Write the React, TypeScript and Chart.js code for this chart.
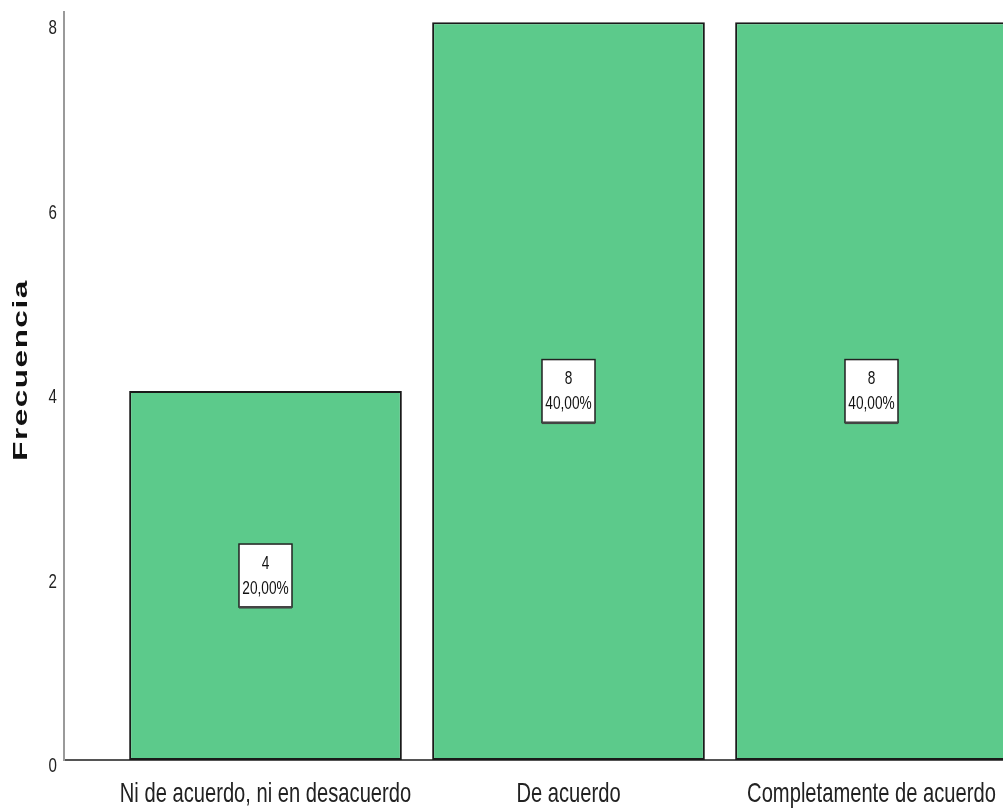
import React, { useEffect, useRef } from "react";
import { Chart, registerables } from "chart.js";

Chart.register(...registerables);

// Response categories and their frequencies
const categories = [
  "Ni de acuerdo, ni en desacuerdo",
  "De acuerdo",
  "Completamente de acuerdo",
];
const counts = [4, 8, 8];
const yTicks = [0, 2, 4, 6, 8];
const yTitle = "Frecuencia";

const SANS = '"Liberation Sans", Arial, sans-serif';
const BAR_FILL = "#5cca8b";
// horizontal squeeze that gives the tall, narrow lettering
const NARROW_X = 0.72;

const total = counts.reduce((a, b) => a + b, 0);
const pctText = (v: number) => ((v / total) * 100).toFixed(2).replace(".", ",") + "%";

function narrowText(
  ctx: CanvasRenderingContext2D,
  text: string,
  x: number,
  y: number,
  size: number,
  align: CanvasTextAlign,
  color: string
) {
  ctx.save();
  ctx.translate(x, y);
  ctx.scale(NARROW_X, 1);
  ctx.font = `${size}px ${SANS}`;
  ctx.fillStyle = color;
  ctx.textAlign = align;
  ctx.textBaseline = "alphabetic";
  ctx.fillText(text, 0, 0);
  ctx.restore();
}

// Tick labels for both axes, placed from the chart's scales
const tickLabels = {
  id: "tickLabels",
  afterDraw(chart: any) {
    const ctx = chart.ctx;
    const xs = chart.scales.x;
    const ys = chart.scales.y;
    xs.ticks.forEach((t: any, i: number) => {
      const label = categories[t.value];
      if (label === undefined) return;
      narrowText(ctx, label, xs.getPixelForTick(i), xs.top + 42, 28, "center", "#222");
    });
    ys.ticks.forEach((t: any, i: number) => {
      narrowText(ctx, String(t.value), ys.right - 7, ys.getPixelForTick(i) + 12, 21, "right", "#222");
    });
  },
};

// White boxes with count and percentage at each bar's mid-height
const valueBoxes = {
  id: "valueBoxes",
  afterDatasetsDraw(chart: any) {
    const ctx = chart.ctx;
    const meta = chart.getDatasetMeta(0);
    const yScale = chart.scales.y;
    meta.data.forEach((bar: any, i: number) => {
      const v = counts[i];
      const cx = bar.x;
      const cy = yScale.getPixelForValue(v / 2);
      const w = 53;
      const h = 63;
      ctx.save();
      ctx.fillStyle = "#ffffff";
      ctx.fillRect(cx - w / 2, cy - h / 2, w, h);
      ctx.strokeStyle = "#222";
      ctx.lineWidth = 1.5;
      ctx.strokeRect(cx - w / 2, cy - h / 2, w, h);
      ctx.fillStyle = "#444";
      ctx.fillRect(cx - w / 2, cy + h / 2 - 1, w, 2.5);
      ctx.restore();
      narrowText(ctx, String(v), cx, cy - 7, 19, "center", "#111");
      narrowText(ctx, pctText(v), cx, cy + 18, 19, "center", "#111");
    });
  },
};

// Rotated axis title, stretched along its length
const axisTitle = {
  id: "axisTitle",
  afterDraw(chart: any) {
    const ctx = chart.ctx;
    const area = chart.chartArea;
    ctx.save();
    ctx.translate(21, (area.top + area.bottom) / 2 - 16);
    ctx.rotate(-Math.PI / 2);
    ctx.scale(1.5, 1);
    ctx.font = `bold 21px ${SANS}`;
    (ctx as any).letterSpacing = "1px";
    ctx.fillStyle = "#111";
    ctx.textAlign = "center";
    ctx.textBaseline = "middle";
    ctx.fillText(yTitle, 0, 0);
    ctx.restore();
  },
};

export default function App() {
  const canvasRef = useRef<HTMLCanvasElement | null>(null);

  useEffect(() => {
    if (!canvasRef.current) return;
    const chart = new Chart(canvasRef.current, {
      type: "bar",
      data: {
        datasets: [
          {
            data: counts.map((v, i) => ({ x: i, y: v })),
            backgroundColor: BAR_FILL,
            borderColor: "#1a1a1a",
            borderWidth: 2,
            borderSkipped: false,
            barPercentage: 0.9,
            categoryPercentage: 1,
          },
        ],
      },
      options: {
        responsive: false,
        animation: false,
        layout: { padding: { top: 12, left: 0, right: 0, bottom: 0 } },
        plugins: {
          legend: { display: false },
          tooltip: { enabled: false },
        },
        scales: {
          x: {
            type: "linear",
            offset: false,
            min: -0.665,
            max: 2.434,
            grid: { display: false, drawTicks: false },
            border: { display: true, color: "#555", width: 2 },
            afterBuildTicks: (axis: any) => {
              axis.ticks = categories.map((_, i) => ({ value: i }));
            },
            afterFit: (scale: any) => {
              scale.height = 51;
            },
            ticks: { display: false },
          },
          y: {
            type: "linear",
            min: 0,
            max: 8.11,
            grid: { display: false, drawTicks: false },
            border: { display: true, color: "#9a9a9a", width: 2 },
            afterBuildTicks: (axis: any) => {
              axis.ticks = yTicks.map((v) => ({ value: v }));
            },
            afterFit: (scale: any) => {
              scale.width = 64;
            },
            ticks: { display: false },
          },
        },
      },
      plugins: [valueBoxes, tickLabels, axisTitle],
    });
    return () => chart.destroy();
  }, []);

  return (
    <div
      style={{
        position: "absolute",
        left: 0,
        top: 0,
        width: 1003,
        height: 811,
        overflow: "hidden",
        background: "#fff",
      }}
    >
      <canvas ref={canvasRef} width={1003} height={811} />
    </div>
  );
}
